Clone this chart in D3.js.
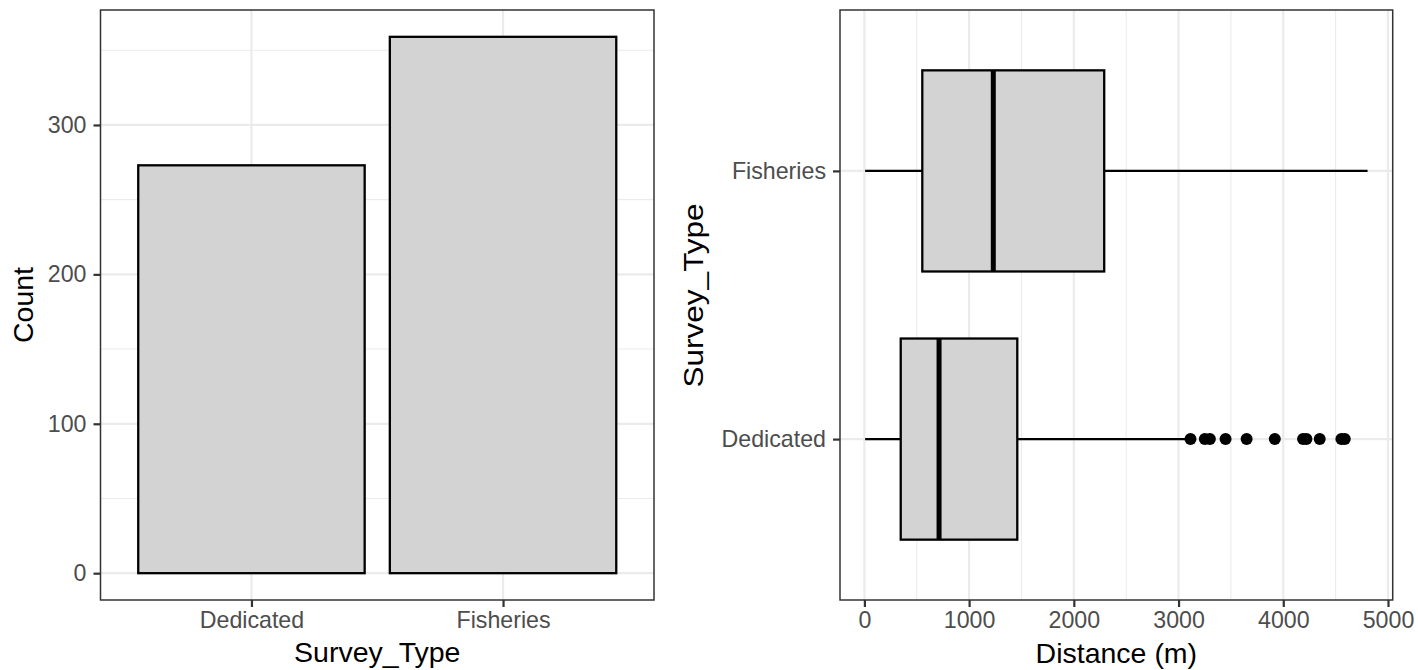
<!DOCTYPE html>
<html>
<head>
<meta charset="utf-8">
<script src="https://cdn.jsdelivr.net/npm/d3@7"></script>
<style>
  html, body { margin: 0; padding: 0; background: #fff; }
  svg { display: block; font-family: "Liberation Sans", Arial, Helvetica, sans-serif; }
</style>
</head>
<body>
<svg id="chart" width="1418" height="670"></svg>
<script>
// Survey types and number of sightings per type
const surveyTypes = ["Dedicated", "Fisheries"];
const sightingCounts = [273, 359];
const countTicks = [0, 100, 200, 300];
const countMinorTicks = [50, 150, 250, 350];

// Distance summaries (m) per survey type: whisker ends, quartiles, median
const distLow = [7, 7];
const distQ1 = [347, 553];
const distMedian = [713, 1231];
const distQ3 = [1460, 2290];
const distHigh = [3080, 4805];
// Outlying distances for the Dedicated surveys
const dedicatedOutliers = [3114, 3251, 3299, 3449, 3650, 3919, 4189, 4221, 4348, 4555, 4587];
const distanceTicks = [0, 1000, 2000, 3000, 4000, 5000];
const distanceMinorTicks = [500, 1500, 2500, 3500, 4500];

const svg = d3.select("#chart");
const tickColor = "#4D4D4D";
const gridColor = "#EBEBEB";
const tickSize = 23.2;
const titleSize = 28.5;

// ---------- Left panel: bar chart of counts ----------
const L = { x0: 100.5, x1: 654, y0: 10, y1: 600 };
const cmax = d3.max(sightingCounts);
const y = d3.scaleLinear()
  .domain([0 - 0.05 * cmax, cmax + 0.05 * cmax])
  .range([L.y1, L.y0]);
const unitL = (L.x1 - L.x0) / 2.2;
const xBand = d3.scalePoint().domain(surveyTypes)
  .range([L.x0 + 0.6 * unitL, L.x1 - 0.6 * unitL]);

const left = svg.append("g");
left.append("rect").attr("x", L.x0).attr("y", L.y0)
  .attr("width", L.x1 - L.x0).attr("height", L.y1 - L.y0).attr("fill", "#fff");
left.selectAll("line.minor").data(countMinorTicks).join("line")
  .attr("x1", L.x0).attr("x2", L.x1).attr("y1", d => y(d)).attr("y2", d => y(d))
  .attr("stroke", gridColor).attr("stroke-width", 1.1);
left.selectAll("line.major").data(countTicks).join("line")
  .attr("x1", L.x0).attr("x2", L.x1).attr("y1", d => y(d)).attr("y2", d => y(d))
  .attr("stroke", gridColor).attr("stroke-width", 2.2);
left.selectAll("line.majorx").data(surveyTypes).join("line")
  .attr("x1", d => xBand(d)).attr("x2", d => xBand(d)).attr("y1", L.y0).attr("y2", L.y1)
  .attr("stroke", gridColor).attr("stroke-width", 2.2);

left.selectAll("rect.bar").data(surveyTypes).join("rect")
  .attr("x", d => xBand(d) - 0.45 * unitL)
  .attr("width", 0.9 * unitL)
  .attr("y", (d, i) => y(sightingCounts[i]))
  .attr("height", (d, i) => y(0) - y(sightingCounts[i]))
  .attr("fill", "#D3D3D3").attr("stroke", "#000").attr("stroke-width", 2.3);

left.append("rect").attr("x", L.x0).attr("y", L.y0)
  .attr("width", L.x1 - L.x0).attr("height", L.y1 - L.y0)
  .attr("fill", "none").attr("stroke", "#333333").attr("stroke-width", 1.5);

// axes
const yAxisL = left.append("g").attr("transform", `translate(${L.x0},0)`)
  .call(d3.axisLeft(y).tickValues(countTicks).tickSize(7).tickPadding(7));
const xAxisL = left.append("g").attr("transform", `translate(0,${L.y1})`)
  .call(d3.axisBottom(xBand).tickSize(7).tickPadding(5));

[yAxisL, xAxisL].forEach(a => {
  a.select(".domain").remove();
  a.selectAll(".tick line").attr("stroke", "#333333").attr("stroke-width", 2.2);
  a.selectAll(".tick text").attr("fill", tickColor).attr("font-size", tickSize)
    .attr("font-family", "Liberation Sans, Arial, sans-serif");
});

left.append("text").attr("x", (L.x0 + L.x1) / 2).attr("y", 662)
  .attr("text-anchor", "middle").attr("font-size", titleSize).text("Survey_Type");
left.append("text").attr("transform", `translate(32.5,${(L.y0 + L.y1) / 2}) rotate(-90)`)
  .attr("text-anchor", "middle").attr("font-size", titleSize).text("Count");

// ---------- Right panel: box plots of distance ----------
const R = { x0: 840, x1: 1392.7, y0: 10, y1: 600 };
const dmin = d3.min(distLow), dmax = d3.max(distHigh.concat(dedicatedOutliers));
const span = dmax - dmin;
const x = d3.scaleLinear()
  .domain([dmin - 0.05 * span, dmax + 0.05 * span])
  .range([R.x0, R.x1]);
const unitR = (R.y1 - R.y0) / 2.2;
const yCat = d3.scalePoint().domain(surveyTypes)
  .range([R.y1 - 0.6 * unitR, R.y0 + 0.6 * unitR]);

const right = svg.append("g");
right.append("rect").attr("x", R.x0).attr("y", R.y0)
  .attr("width", R.x1 - R.x0).attr("height", R.y1 - R.y0).attr("fill", "#fff");
right.selectAll("line.minor").data(distanceMinorTicks).join("line")
  .attr("x1", d => x(d)).attr("x2", d => x(d)).attr("y1", R.y0).attr("y2", R.y1)
  .attr("stroke", gridColor).attr("stroke-width", 1.1);
right.selectAll("line.major").data(distanceTicks).join("line")
  .attr("x1", d => x(d)).attr("x2", d => x(d)).attr("y1", R.y0).attr("y2", R.y1)
  .attr("stroke", gridColor).attr("stroke-width", 2.2);
right.selectAll("line.majory").data(surveyTypes).join("line")
  .attr("x1", R.x0).attr("x2", R.x1).attr("y1", d => yCat(d)).attr("y2", d => yCat(d))
  .attr("stroke", gridColor).attr("stroke-width", 2.2);

const boxes = right.selectAll("g.box").data(surveyTypes).join("g");
const halfH = 0.375 * unitR;
// whiskers
boxes.append("line")
  .attr("x1", (d, i) => x(distLow[i])).attr("x2", (d, i) => x(distQ1[i]))
  .attr("y1", d => yCat(d)).attr("y2", d => yCat(d))
  .attr("stroke", "#000").attr("stroke-width", 2.3);
boxes.append("line")
  .attr("x1", (d, i) => x(distQ3[i])).attr("x2", (d, i) => x(distHigh[i]))
  .attr("y1", d => yCat(d)).attr("y2", d => yCat(d))
  .attr("stroke", "#000").attr("stroke-width", 2.3);
// boxes
boxes.append("rect")
  .attr("x", (d, i) => x(distQ1[i]))
  .attr("width", (d, i) => x(distQ3[i]) - x(distQ1[i]))
  .attr("y", d => yCat(d) - halfH).attr("height", 2 * halfH)
  .attr("fill", "#D3D3D3").attr("stroke", "#000").attr("stroke-width", 2.3);
// medians
boxes.append("line")
  .attr("x1", (d, i) => x(distMedian[i])).attr("x2", (d, i) => x(distMedian[i]))
  .attr("y1", d => yCat(d) - halfH).attr("y2", d => yCat(d) + halfH)
  .attr("stroke", "#000").attr("stroke-width", 5);
// outliers
right.selectAll("circle.out").data(dedicatedOutliers).join("circle")
  .attr("cx", d => x(d)).attr("cy", yCat("Dedicated")).attr("r", 6)
  .attr("fill", "#000");

right.append("rect").attr("x", R.x0).attr("y", R.y0)
  .attr("width", R.x1 - R.x0).attr("height", R.y1 - R.y0)
  .attr("fill", "none").attr("stroke", "#333333").attr("stroke-width", 1.5);

const xAxisR = right.append("g").attr("transform", `translate(0,${R.y1})`)
  .call(d3.axisBottom(x).tickValues(distanceTicks).tickFormat(d3.format("d")).tickSize(7).tickPadding(5));
const yAxisR = right.append("g").attr("transform", `translate(${R.x0},0)`)
  .call(d3.axisLeft(yCat).tickSize(7).tickPadding(7));
[xAxisR, yAxisR].forEach(a => {
  a.select(".domain").remove();
  a.selectAll(".tick line").attr("stroke", "#333333").attr("stroke-width", 2.2);
  a.selectAll(".tick text").attr("fill", tickColor).attr("font-size", tickSize)
    .attr("font-family", "Liberation Sans, Arial, sans-serif");
});

right.append("text").attr("x", (R.x0 + R.x1) / 2).attr("y", 663)
  .attr("text-anchor", "middle").attr("font-size", titleSize).text("Distance (m)");
right.append("text").attr("transform", `translate(703,295.5) rotate(-90)`)
  .attr("text-anchor", "middle").attr("font-size", titleSize)
  .attr("textLength", 184).attr("lengthAdjust", "spacingAndGlyphs")
  .text("Survey_Type");
</script>
</body>
</html>
